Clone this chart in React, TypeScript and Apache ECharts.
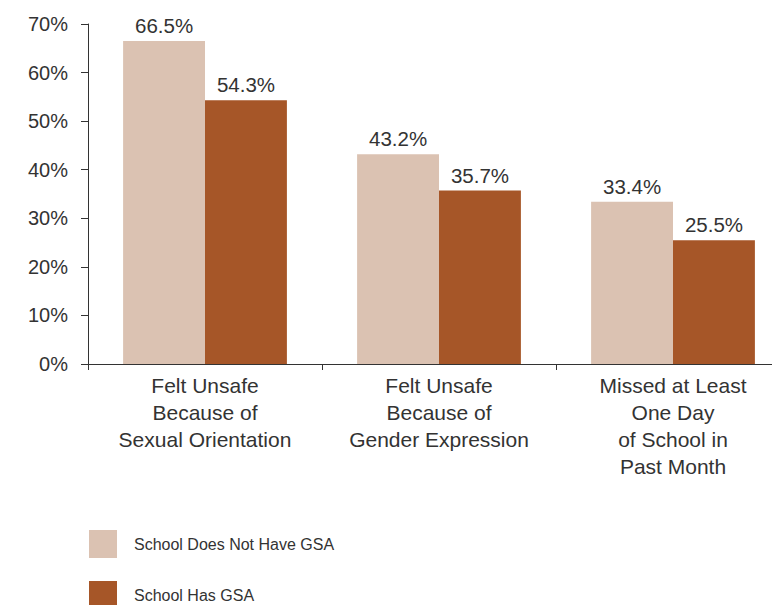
import React, { useEffect, useRef } from "react";
import * as echarts from "echarts";

const categories = [
  "Felt Unsafe\nBecause of\nSexual Orientation",
  "Felt Unsafe\nBecause of\nGender Expression",
  "Missed at Least\nOne Day\nof School in\nPast Month",
];
const seriesNames = ["School Does Not Have GSA", "School Has GSA"];
const noGsa = [66.5, 43.2, 33.4];
const hasGsa = [54.3, 35.7, 25.5];
const yTicks = [0, 10, 20, 30, 40, 50, 60, 70];

const FONT = "'Liberation Sans', Arial, Helvetica, sans-serif";
const TXT = "#333333";

export default function App() {
  const ref = useRef<HTMLDivElement>(null);
  useEffect(() => {
    if (!ref.current) return;
    const chart = echarts.init(ref.current, undefined, { renderer: "svg" });
    const label = {
      show: true,
      position: "top",
      distance: 5,
      fontSize: 20.5,
      fontFamily: FONT,
      color: TXT,
      formatter: (p: any) => p.value.toFixed(1) + "%",
    };
    const legendBase = {
      orient: "vertical",
      left: 89,
      padding: 0,
      itemWidth: 28,
      itemHeight: 28,
      icon: "rect",
      selectedMode: false,
      textStyle: { fontSize: 16, color: TXT, fontFamily: FONT, padding: [0, 0, 0, 12] },
    };
    chart.setOption({
      animation: false,
      textStyle: { fontFamily: FONT },
      grid: { left: 88, top: 24, width: 702, height: 340, containLabel: false },
      legend: [
        { ...legendBase, top: 530, data: [seriesNames[0]] },
        { ...legendBase, top: 581, data: [seriesNames[1]] },
      ],
      xAxis: {
        type: "category",
        data: categories,
        axisLine: { lineStyle: { color: TXT, width: 1 } },
        axisTick: { show: true, length: 6, lineStyle: { color: TXT } },
        axisLabel: { fontSize: 21, color: TXT, fontFamily: FONT, lineHeight: 27, margin: 8, interval: 0 },
      },
      yAxis: {
        type: "value",
        min: yTicks[0],
        max: yTicks[yTicks.length - 1],
        interval: 10,
        splitLine: { show: false },
        axisLine: { show: true, lineStyle: { color: TXT, width: 1 } },
        axisTick: { show: true, length: 7, lineStyle: { color: TXT } },
        axisLabel: { fontSize: 20, color: TXT, fontFamily: FONT, margin: 20, formatter: "{value}%" },
      },
      series: [
        {
          name: seriesNames[0],
          type: "bar",
          data: noGsa,
          barGap: "0%",
          barCategoryGap: "30%",
          itemStyle: { color: "#DBC2B2" },
          label,
        },
        {
          name: seriesNames[1],
          type: "bar",
          data: hasGsa,
          barGap: "0%",
          barCategoryGap: "30%",
          itemStyle: { color: "#A65628" },
          label,
        },
      ],
    });
    return () => chart.dispose();
  }, []);
  return (
    <div style={{ width: 772, height: 605, position: "absolute", left: 0, top: 0, overflow: "hidden" }}>
      <div ref={ref} style={{ width: 790, height: 605, position: "absolute", left: 0, top: 0 }} />
    </div>
  );
}
